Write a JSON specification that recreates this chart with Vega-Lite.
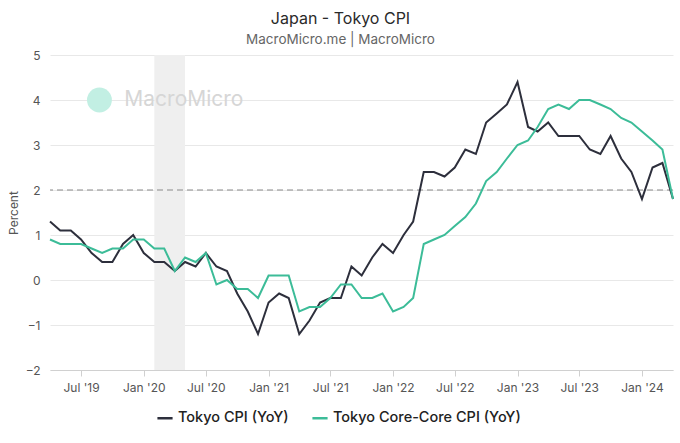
{
  "$schema": "https://vega.github.io/schema/vega-lite/v6.json",
  "autosize": "none",
  "width": 623,
  "height": 315,
  "padding": {"left": 50, "top": 55, "right": 7, "bottom": 73},
  "background": "white",
  "title": {
    "text": "Japan - Tokyo CPI",
    "subtitle": "MacroMicro.me | MacroMicro",
    "anchor": "middle",
    "dx": -21,
    "offset": 3,
    "fontSize": 16,
    "fontWeight": "normal",
    "color": "#2a2a2a",
    "subtitleFontSize": 13.5,
    "subtitleColor": "#666666",
    "subtitlePadding": 6,
    "font": "Inter",
    "subtitleFont": "Inter"
  },
  "config": {
    "font": "Inter",
    "view": {"stroke": null}
  },
  "datasets": {
    "cpi": [
      {"date": "2019-04-01", "Tokyo CPI (YoY)": 1.3, "Tokyo Core-Core CPI (YoY)": 0.9},
      {"date": "2019-05-01", "Tokyo CPI (YoY)": 1.1, "Tokyo Core-Core CPI (YoY)": 0.8},
      {"date": "2019-06-01", "Tokyo CPI (YoY)": 1.1, "Tokyo Core-Core CPI (YoY)": 0.8},
      {"date": "2019-07-01", "Tokyo CPI (YoY)": 0.9, "Tokyo Core-Core CPI (YoY)": 0.8},
      {"date": "2019-08-01", "Tokyo CPI (YoY)": 0.6, "Tokyo Core-Core CPI (YoY)": 0.7},
      {"date": "2019-09-01", "Tokyo CPI (YoY)": 0.4, "Tokyo Core-Core CPI (YoY)": 0.6},
      {"date": "2019-10-01", "Tokyo CPI (YoY)": 0.4, "Tokyo Core-Core CPI (YoY)": 0.7},
      {"date": "2019-11-01", "Tokyo CPI (YoY)": 0.8, "Tokyo Core-Core CPI (YoY)": 0.7},
      {"date": "2019-12-01", "Tokyo CPI (YoY)": 1.0, "Tokyo Core-Core CPI (YoY)": 0.9},
      {"date": "2020-01-01", "Tokyo CPI (YoY)": 0.6, "Tokyo Core-Core CPI (YoY)": 0.9},
      {"date": "2020-02-01", "Tokyo CPI (YoY)": 0.4, "Tokyo Core-Core CPI (YoY)": 0.7},
      {"date": "2020-03-01", "Tokyo CPI (YoY)": 0.4, "Tokyo Core-Core CPI (YoY)": 0.7},
      {"date": "2020-04-01", "Tokyo CPI (YoY)": 0.2, "Tokyo Core-Core CPI (YoY)": 0.2},
      {"date": "2020-05-01", "Tokyo CPI (YoY)": 0.4, "Tokyo Core-Core CPI (YoY)": 0.5},
      {"date": "2020-06-01", "Tokyo CPI (YoY)": 0.3, "Tokyo Core-Core CPI (YoY)": 0.4},
      {"date": "2020-07-01", "Tokyo CPI (YoY)": 0.6, "Tokyo Core-Core CPI (YoY)": 0.6},
      {"date": "2020-08-01", "Tokyo CPI (YoY)": 0.3, "Tokyo Core-Core CPI (YoY)": -0.1},
      {"date": "2020-09-01", "Tokyo CPI (YoY)": 0.2, "Tokyo Core-Core CPI (YoY)": 0.0},
      {"date": "2020-10-01", "Tokyo CPI (YoY)": -0.3, "Tokyo Core-Core CPI (YoY)": -0.2},
      {"date": "2020-11-01", "Tokyo CPI (YoY)": -0.7, "Tokyo Core-Core CPI (YoY)": -0.2},
      {"date": "2020-12-01", "Tokyo CPI (YoY)": -1.2, "Tokyo Core-Core CPI (YoY)": -0.4},
      {"date": "2021-01-01", "Tokyo CPI (YoY)": -0.5, "Tokyo Core-Core CPI (YoY)": 0.1},
      {"date": "2021-02-01", "Tokyo CPI (YoY)": -0.3, "Tokyo Core-Core CPI (YoY)": 0.1},
      {"date": "2021-03-01", "Tokyo CPI (YoY)": -0.4, "Tokyo Core-Core CPI (YoY)": 0.1},
      {"date": "2021-04-01", "Tokyo CPI (YoY)": -1.2, "Tokyo Core-Core CPI (YoY)": -0.7},
      {"date": "2021-05-01", "Tokyo CPI (YoY)": -0.9, "Tokyo Core-Core CPI (YoY)": -0.6},
      {"date": "2021-06-01", "Tokyo CPI (YoY)": -0.5, "Tokyo Core-Core CPI (YoY)": -0.6},
      {"date": "2021-07-01", "Tokyo CPI (YoY)": -0.4, "Tokyo Core-Core CPI (YoY)": -0.4},
      {"date": "2021-08-01", "Tokyo CPI (YoY)": -0.4, "Tokyo Core-Core CPI (YoY)": -0.1},
      {"date": "2021-09-01", "Tokyo CPI (YoY)": 0.3, "Tokyo Core-Core CPI (YoY)": -0.1},
      {"date": "2021-10-01", "Tokyo CPI (YoY)": 0.1, "Tokyo Core-Core CPI (YoY)": -0.4},
      {"date": "2021-11-01", "Tokyo CPI (YoY)": 0.5, "Tokyo Core-Core CPI (YoY)": -0.4},
      {"date": "2021-12-01", "Tokyo CPI (YoY)": 0.8, "Tokyo Core-Core CPI (YoY)": -0.3},
      {"date": "2022-01-01", "Tokyo CPI (YoY)": 0.6, "Tokyo Core-Core CPI (YoY)": -0.7},
      {"date": "2022-02-01", "Tokyo CPI (YoY)": 1.0, "Tokyo Core-Core CPI (YoY)": -0.6},
      {"date": "2022-03-01", "Tokyo CPI (YoY)": 1.3, "Tokyo Core-Core CPI (YoY)": -0.4},
      {"date": "2022-04-01", "Tokyo CPI (YoY)": 2.4, "Tokyo Core-Core CPI (YoY)": 0.8},
      {"date": "2022-05-01", "Tokyo CPI (YoY)": 2.4, "Tokyo Core-Core CPI (YoY)": 0.9},
      {"date": "2022-06-01", "Tokyo CPI (YoY)": 2.3, "Tokyo Core-Core CPI (YoY)": 1.0},
      {"date": "2022-07-01", "Tokyo CPI (YoY)": 2.5, "Tokyo Core-Core CPI (YoY)": 1.2},
      {"date": "2022-08-01", "Tokyo CPI (YoY)": 2.9, "Tokyo Core-Core CPI (YoY)": 1.4},
      {"date": "2022-09-01", "Tokyo CPI (YoY)": 2.8, "Tokyo Core-Core CPI (YoY)": 1.7},
      {"date": "2022-10-01", "Tokyo CPI (YoY)": 3.5, "Tokyo Core-Core CPI (YoY)": 2.2},
      {"date": "2022-11-01", "Tokyo CPI (YoY)": 3.7, "Tokyo Core-Core CPI (YoY)": 2.4},
      {"date": "2022-12-01", "Tokyo CPI (YoY)": 3.9, "Tokyo Core-Core CPI (YoY)": 2.7},
      {"date": "2023-01-01", "Tokyo CPI (YoY)": 4.4, "Tokyo Core-Core CPI (YoY)": 3.0},
      {"date": "2023-02-01", "Tokyo CPI (YoY)": 3.4, "Tokyo Core-Core CPI (YoY)": 3.1},
      {"date": "2023-03-01", "Tokyo CPI (YoY)": 3.3, "Tokyo Core-Core CPI (YoY)": 3.4},
      {"date": "2023-04-01", "Tokyo CPI (YoY)": 3.5, "Tokyo Core-Core CPI (YoY)": 3.8},
      {"date": "2023-05-01", "Tokyo CPI (YoY)": 3.2, "Tokyo Core-Core CPI (YoY)": 3.9},
      {"date": "2023-06-01", "Tokyo CPI (YoY)": 3.2, "Tokyo Core-Core CPI (YoY)": 3.8},
      {"date": "2023-07-01", "Tokyo CPI (YoY)": 3.2, "Tokyo Core-Core CPI (YoY)": 4.0},
      {"date": "2023-08-01", "Tokyo CPI (YoY)": 2.9, "Tokyo Core-Core CPI (YoY)": 4.0},
      {"date": "2023-09-01", "Tokyo CPI (YoY)": 2.8, "Tokyo Core-Core CPI (YoY)": 3.9},
      {"date": "2023-10-01", "Tokyo CPI (YoY)": 3.2, "Tokyo Core-Core CPI (YoY)": 3.8},
      {"date": "2023-11-01", "Tokyo CPI (YoY)": 2.7, "Tokyo Core-Core CPI (YoY)": 3.6},
      {"date": "2023-12-01", "Tokyo CPI (YoY)": 2.4, "Tokyo Core-Core CPI (YoY)": 3.5},
      {"date": "2024-01-01", "Tokyo CPI (YoY)": 1.8, "Tokyo Core-Core CPI (YoY)": 3.3},
      {"date": "2024-02-01", "Tokyo CPI (YoY)": 2.5, "Tokyo Core-Core CPI (YoY)": 3.1},
      {"date": "2024-03-01", "Tokyo CPI (YoY)": 2.6, "Tokyo Core-Core CPI (YoY)": 2.9},
      {"date": "2024-04-01", "Tokyo CPI (YoY)": 1.8, "Tokyo Core-Core CPI (YoY)": 1.8}
    ]
  },
  "layer": [
    {
      "data": {"values": [{"start": "2020-02-01", "end": "2020-05-01"}]},
      "mark": {"type": "rect", "color": "#efefef"},
      "encoding": {
        "x": {"field": "start", "type": "temporal"},
        "x2": {"field": "end"}
      }
    },
    {
      "data": {"values": [{"date": "2019-08-24", "v": 4.0}]},
      "mark": {"type": "point", "filled": true, "size": 620, "color": "#c2efe3", "opacity": 1},
      "encoding": {
        "x": {"field": "date", "type": "temporal"},
        "y": {"field": "v", "type": "quantitative"}
      }
    },
    {
      "data": {"values": [{"date": "2019-11-05", "v": 4.0, "t": "MacroMicro"}]},
      "mark": {"type": "text", "align": "left", "baseline": "middle", "fontSize": 21, "color": "#d6d6d6", "font": "Inter"},
      "encoding": {
        "x": {"field": "date", "type": "temporal"},
        "y": {"field": "v", "type": "quantitative"},
        "text": {"field": "t"}
      }
    },
    {
      "data": {"values": [{"v": 2}]},
      "mark": {"type": "rule", "color": "#8a8a8a", "strokeDash": [6, 4], "strokeWidth": 1.2},
      "encoding": {
        "y": {"field": "v", "type": "quantitative"}
      }
    },
    {
      "data": {"name": "cpi"},
      "transform": [
        {"fold": ["Tokyo CPI (YoY)", "Tokyo Core-Core CPI (YoY)"], "as": ["series", "value"]}
      ],
      "mark": {"type": "line", "strokeWidth": 2, "strokeJoin": "miter"},
      "encoding": {
        "x": {
          "field": "date",
          "type": "temporal",
          "scale": {"domain": [{"year": 2019, "month": 4, "date": 1}, {"year": 2024, "month": 4, "date": 1}]},
          "axis": {
            "title": null,
            "values": [
              {"year": 2019, "month": 7, "date": 1},
              {"year": 2020, "month": 1, "date": 1},
              {"year": 2020, "month": 7, "date": 1},
              {"year": 2021, "month": 1, "date": 1},
              {"year": 2021, "month": 7, "date": 1},
              {"year": 2022, "month": 1, "date": 1},
              {"year": 2022, "month": 7, "date": 1},
              {"year": 2023, "month": 1, "date": 1},
              {"year": 2023, "month": 7, "date": 1},
              {"year": 2024, "month": 1, "date": 1}
            ],
            "format": "%b '%y",
            "grid": false,
            "domainColor": "#d0d0d0",
            "tickColor": "#d0d0d0",
            "tickSize": 6,
            "labelFontSize": 12,
            "labelColor": "#555555",
            "labelPadding": 6
          }
        },
        "y": {
          "field": "value",
          "type": "quantitative",
          "scale": {"domain": [-2, 5], "nice": false},
          "axis": {
            "title": "Percent",
            "titleFontSize": 12,
            "titleFontWeight": "normal",
            "titleColor": "#555555",
            "titlePadding": 5,
            "values": [-2, -1, 0, 1, 2, 3, 4, 5],
            "domain": false,
            "ticks": false,
            "gridColor": "#e8e8e8",
            "labelFontSize": 12,
            "labelColor": "#555555",
            "labelPadding": 10
          }
        },
        "color": {
          "field": "series",
          "type": "nominal",
          "scale": {"domain": ["Tokyo CPI (YoY)", "Tokyo Core-Core CPI (YoY)"], "range": ["#2d2f3c", "#3cbc98"]},
          "legend": {
            "title": null,
            "orient": "none",
            "legendX": 106,
            "legendY": 354,
            "direction": "horizontal",
            "symbolType": "stroke",
            "symbolSize": 230,
            "symbolStrokeWidth": 2.5,
            "labelFontSize": 14.5,
            "labelFontWeight": 500,
            "labelColor": "#222222",
            "labelLimit": 400,
            "columnPadding": 18
          }
        }
      }
    }
  ]
}
